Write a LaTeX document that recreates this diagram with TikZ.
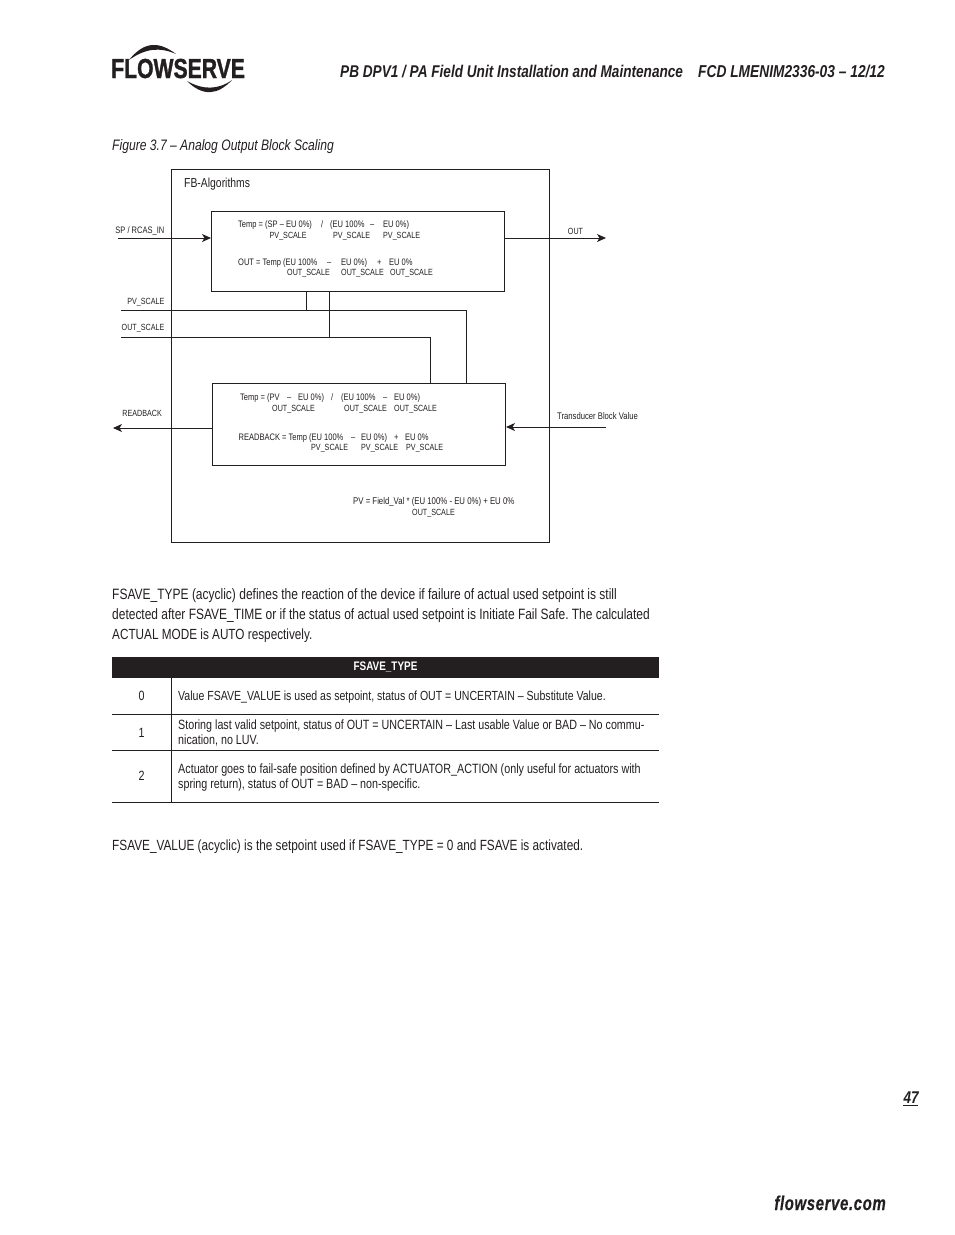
\documentclass[tikz,border=0pt]{standalone}
\usepackage{fontspec}
\setmainfont[FakeStretch=0.8]{Liberation Sans}
\newfontfamily\logofont[FakeStretch=0.77,FakeBold=1.2]{Liberation Sans}
\newfontfamily\webfont[FakeStretch=0.75,LetterSpace=3,FakeBold=0.4]{Liberation Sans}
\usetikzlibrary{arrows.meta}
\definecolor{ink}{HTML}{231F20}
\frenchspacing
\tikzset{
  x=1pt,y=-1pt,
  wire/.style={draw=ink,line width=1pt},
  flow/.style={wire,-{Stealth[length=9pt,width=8pt,inset=2.5pt]}},
  box/.style={draw=ink,line width=1pt,inner sep=0pt,anchor=north west},
  txt/.style={anchor=base west,inner sep=0pt,text=ink},
  mid/.style={anchor=base,inner sep=0pt,text=ink},
  right end/.style={anchor=base east,inner sep=0pt,text=ink},
  tiny/.style={font=\fontsize{9.4}{10}\selectfont},
  capt/.style={font=\fontsize{8.95}{10}\selectfont},
  small/.style={font=\fontsize{13}{14}\selectfont},
  cell/.style={font=\fontsize{13.4}{16}\selectfont},
  body/.style={font=\fontsize{15}{20}\selectfont},
  head/.style={font=\fontsize{17}{20}\selectfont\bfseries\itshape},
  rule/.style={draw=ink,line width=1pt},
}
\begin{document}
\begin{tikzpicture}
\useasboundingbox (0,0) rectangle (954,1235);
% logo
\node[txt] (logo) at (111,78) {\fontsize{27.5}{26}\selectfont\logofont\bfseries FLOWSERVE};
\fill[ink] (129,60) .. controls (145,40) and (160,42) .. (176,54) .. controls (160,47) and (146,48) .. (129,60) -- cycle;
\fill[ink] (187,81) .. controls (203,97) and (218,95) .. (232,80) .. controls (218,90) and (203,90) .. (187,81) -- cycle;
% header
\node[txt,head] (title) at (340,77) {PB DPV1 / PA Field Unit Installation and Maintenance};
\node[right end,font=\fontsize{17.2}{20}\selectfont\bfseries\itshape] (docno) at (885,77) {FCD LMENIM2336-03 – 12/12};
\node[txt,font=\fontsize{15.15}{16}\selectfont\itshape] (caption) at (112,150) {Figure 3.7 – Analog Output Block Scaling};
% diagram boxes
\node[box,minimum width=378pt,minimum height=373pt] (outer) at (171,169) {};
\node[box,minimum width=293pt,minimum height=80pt,fill=white] (upper) at (211,211) {};
\node[box,minimum width=293pt,minimum height=82pt,fill=white] (lower) at (212,383) {};
\node[txt,small] (fb) at (184,187) {FB-Algorithms};
% free ends
\coordinate (spstart) at (118,238);
\coordinate (outend) at (606,238);
\coordinate (pvstart) at (121,310);
\coordinate (osstart) at (121,337);
\coordinate (rbend) at (113,428);
\coordinate (tbstart) at (606,427);
\coordinate (pvcorner) at (466,310);
\coordinate (oscorner) at (430,337);
\coordinate (pvtap) at (306,310);
\coordinate (ostap) at (329,337);
% connectors
\draw[flow] (spstart) -- (upper.west |- spstart);
\draw[flow] (upper.east |- outend) -- (outend);
\draw[wire] (pvstart) -- (pvcorner) -- (pvcorner |- lower.north);
\draw[wire] (osstart) -- (oscorner) -- (oscorner |- lower.north);
\draw[wire] (pvtap |- upper.south) -- (pvtap);
\draw[wire] (ostap |- upper.south) -- (ostap);
\draw[flow] (lower.west |- rbend) -- (rbend);
\draw[flow] (tbstart) -- (lower.east |- tbstart);
% signal labels
\node[tiny,right end] (lsp) at (164.5,233) {SP / RCAS\_IN};
\node[capt,mid] (lout) at (575.5,234) {OUT};
\node[capt,right end] (lpv) at (164.5,304) {PV\_SCALE};
\node[capt,right end] (los) at (164.5,330) {OUT\_SCALE};
\node[capt,right end] (lrb) at (162,416.5) {READBACK};
\node[font=\fontsize{9.6}{10}\selectfont,txt] (ltb) at (557,419) {Transducer Block Value};
% upper formulas
\node[tiny,txt] (u1) at (238,227) {Temp = (SP – EU 0\%)};
\node[tiny,txt] (u1b) at (321,227) {/};
\node[tiny,txt] (u1c) at (330,227) {(EU 100\%};
\node[tiny,txt] (u1d) at (370,227) {–};
\node[tiny,txt] (u1e) at (383,227) {EU 0\%)};
\node[capt,txt] (u2a) at (269.5,238) {PV\_SCALE};
\node[capt,txt] (u2b) at (333,238) {PV\_SCALE};
\node[capt,txt] (u2c) at (383,238) {PV\_SCALE};
\node[tiny,txt] (u3) at (238,265) {OUT = Temp (EU 100\%};
\node[tiny,txt] (u3b) at (327,265) {–};
\node[tiny,txt] (u3c) at (341,265) {EU 0\%)};
\node[tiny,txt] (u3d) at (377,265) {+};
\node[tiny,txt] (u3e) at (389,265) {EU 0\%};
\node[capt,txt] (u4a) at (287,275) {OUT\_SCALE};
\node[capt,txt] (u4b) at (341,275) {OUT\_SCALE};
\node[capt,txt] (u4c) at (390,275) {OUT\_SCALE};
% lower formulas
\node[tiny,txt] (l1) at (240,400) {Temp = (PV};
\node[tiny,txt] (l1b) at (287,400) {–};
\node[tiny,txt] (l1c) at (298,400) {EU 0\%)};
\node[tiny,txt] (l1d) at (331,400) {/};
\node[tiny,txt] (l1e) at (341,400) {(EU 100\%};
\node[tiny,txt] (l1f) at (383,400) {–};
\node[tiny,txt] (l1g) at (394,400) {EU 0\%)};
\node[capt,txt] (l2a) at (272,411) {OUT\_SCALE};
\node[capt,txt] (l2b) at (344,411) {OUT\_SCALE};
\node[capt,txt] (l2c) at (394,411) {OUT\_SCALE};
\node[tiny,txt] (l3) at (238.5,440) {READBACK = Temp (EU 100\%};
\node[tiny,txt] (l3b) at (351,440) {–};
\node[tiny,txt] (l3c) at (361,440) {EU 0\%)};
\node[tiny,txt] (l3d) at (394,440) {+};
\node[tiny,txt] (l3e) at (405,440) {EU 0\%};
\node[capt,txt] (l4a) at (311,450) {PV\_SCALE};
\node[capt,txt] (l4b) at (361,450) {PV\_SCALE};
\node[capt,txt] (l4c) at (406,450) {PV\_SCALE};
\node[font=\fontsize{9.75}{10}\selectfont,txt] (pv1) at (353,504) {PV = Field\_Val * (EU 100\% - EU 0\%) + EU 0\%};
\node[capt,txt] (pv2) at (412,515) {OUT\_SCALE};
% paragraph
\node[txt,body] (p1) at (112,599) {FSAVE\_TYPE (acyclic) defines the reaction of the device if failure of actual used setpoint is still};
\node[txt,font=\fontsize{14.97}{20}\selectfont] (p2) at (112,619) {detected after FSAVE\_TIME or if the status of actual used setpoint is Initiate Fail Safe. The calculated};
\node[txt,font=\fontsize{14.7}{20}\selectfont] (p3) at (112,639) {ACTUAL MODE is AUTO respectively.};
% table
\node[box,draw=none,fill=ink,minimum width=547pt,minimum height=21pt] (thead) at (111.5,656.5) {};
\node[mid,text=white,font=\fontsize{12.4}{16}\selectfont\bfseries] (thtxt) at (385.5,670.5) {FSAVE\_TYPE};
\coordinate (r1l) at (112,714); \coordinate (r1r) at (659,714);
\coordinate (r2l) at (112,750); \coordinate (r2r) at (659,750);
\coordinate (r3l) at (112,802); \coordinate (r3r) at (659,802);
\coordinate (vt) at (171,678);
\draw[rule] (r1l) -- (r1r);
\draw[rule] (r2l) -- (r2r);
\draw[rule] (r3l) -- (r3r);
\draw[rule] (vt) -- (vt |- r3l);
\node[mid,cell] (n0) at (141.5,700) {0};
\node[mid,cell] (n1) at (141.5,737) {1};
\node[mid,cell] (n2) at (141.5,780) {2};
\node[txt,font=\fontsize{13.2}{16}\selectfont] (t0) at (178,700) {Value FSAVE\_VALUE is used as setpoint, status of OUT = UNCERTAIN – Substitute Value.};
\node[txt,cell] (t1a) at (178,729) {Storing last valid setpoint, status of OUT = UNCERTAIN – Last usable Value or BAD – No commu-};
\node[txt,cell] (t1b) at (178,744) {nication, no LUV.};
\node[txt,font=\fontsize{13.45}{16}\selectfont] (t2a) at (178,773) {Actuator goes to fail-safe position defined by ACTUATOR\_ACTION (only useful for actuators with};
\node[txt,cell] (t2b) at (178,788) {spring return), status of OUT = BAD – non-specific.};
\node[txt,font=\fontsize{14.75}{20}\selectfont] (p4) at (112,850) {FSAVE\_VALUE (acyclic) is the setpoint used if FSAVE\_TYPE = 0 and FSAVE is activated.};
% footer
\node[head,right end] (pg) at (919,1103) {47};
\coordinate (pgrule) at (903,1105);
\draw[rule] (pgrule) -- ++(15,0);
\node[right end,font=\fontsize{20}{22}\selectfont\webfont\bfseries\itshape] (web) at (886,1210) {flowserve.com};
\end{tikzpicture}
\end{document}
